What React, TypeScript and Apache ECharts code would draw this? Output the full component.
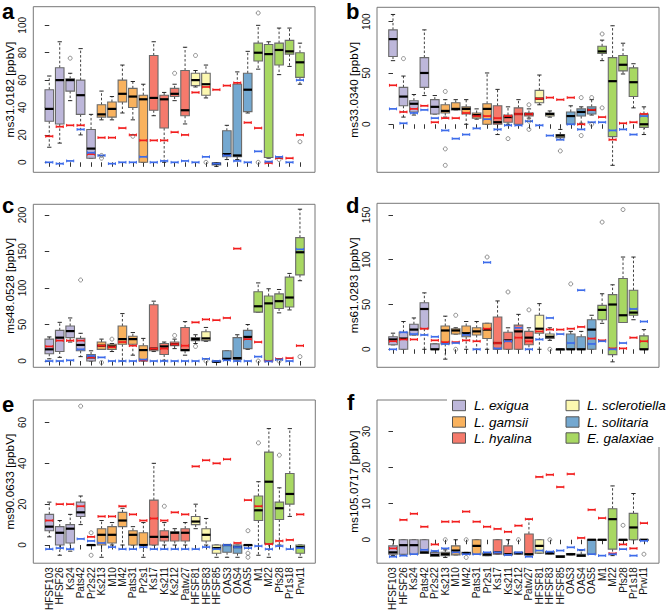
import React, { useEffect, useRef } from 'react';
import * as echarts from 'echarts';

// ---------- categories & species ----------
const categories = ['HFSF103', 'HFSF26', 'Ks24', 'Pats42', 'Pr2s22', 'Ks213', 'M10', 'M42', 'Pats31', 'Pr2s1', 'Ks17', 'Ks211', 'Ks212', 'Patw27', 'HFSF81', 'HFSF83', 'HFSF85', 'OAS3', 'OAS4', 'OAS5', 'M1', 'M22', 'Pfs28', 'Pr1s18', 'Prw11'];
const speciesNames = ['L. exigua', 'L. gamsii', 'L. hyalina', 'L. sclerotiella', 'L. solitaria', 'E. galaxiae'];
const speciesColors = ['#BDB7DA', '#F9B25E', '#F57A6C', '#FCF8B0', '#74A8D0', '#A8D862'];
const speciesOfCategory = [0, 0, 0, 0, 0, 1, 1, 1, 1, 1, 2, 2, 2, 2, 3, 3, 3, 4, 4, 4, 5, 5, 5, 5, 5];

// ---------- panel a : ms31.0182 ----------
// [lower whisker, Q1, median, Q3, upper whisker]
const aBoxes = [[11, 30, 39, 53, 63], [14, 28, 60, 69, 88], [45, 52, 60, 61, 65], [20, 35, 49, 60, 83], [3, 3, 10, 24, 35], [31, 33, 35, 42, 52], [31, 33, 39, 44, 48], [36, 44, 50, 60, 71], [31, 40, 48, 54, 59], [0, 0, 46, 49, 57], [34, 38, 47, 78, 88], [0, 25, 46, 49, 51], [45, 48, 50, 54, 57], [28, 34, 38, 67, 84], [55, 56, 60, 65, 67], [47, 49, 57, 65, 71], [-3, -2, -1, -0.5, -0.5], [2, 4, 6, 23, 27], [2, 4, 5, 57, 66], [36, 37, 53, 65, 81], [68, 74, 80, 87, 100], [3, 3.5, 79, 86, 88], [64, 71, 82, 87, 98], [70, 79, 81, 89, 98], [57, 62, 73, 80, 87]];
const aRed = [19, 26, 27, 27, 6, 18, 18, 25, 20, 16, 16, 16, 22, 20, 51, 55, 53, 56, 58, 29, 25, -0.5, 3, 3, 20];
const aBlue = [0, -1, 1, 24, 7, 5, -1, 0, 0, 4, 0, 1, 0, 1, 0, 4, -1, 5, 1, 0, 8, 0.5, 4, 0, 60];
const aOutliers = [[2, 76], [5, 5], [5, 3], [8, 19], [12, 65], [14, 78], [15, 0], [20, 109], [20, 0], [22, 2], [24, 15]];
const aTicks = [0, 20, 40, 60, 80, 100];

// ---------- panel b : ms33.0340 ----------
const bBoxes = [[62, 66, 83, 92, 107], [7, 18, 27, 36, 47], [9, 12, 20, 23, 29], [28, 36, 50, 65, 92], [10, 10, 17, 24, 28], [7, 11, 13, 19, 24], [14, 14, 15, 21, 24], [0, 10, 15, 17, 24], [5, 6, 9, 11, 15], [0, 0, 15, 20, 50], [-10, 0, 2, 18, 34], [0, 2, 7, 9, 17], [0, 0, 10, 16, 24], [6, 8, 10, 11, 15], [19, 21, 25, 33, 48], [7, 8, 10, 11, 13], [-15, -13, -11, -10, -5], [0, 0, 8, 12, 18], [1, 8, 12, 15, 17], [9, 10, 14, 17, 24], [62, 69, 71, 76, 82], [-40, -12, 42, 65, 96], [49, 52, 58, 67, 79], [16, 27, 41, 55, 59], [-10, -3, 0, 10, 17]];
const bRed = [38, 12, 15, 18, 2, 6, 6, 11, 8, 8, 6, 8, 10, 10, 25, 26, 24, 26, 0, 14, 7, -15, 1, 2, 10];
const bBlue = [15, 1, 11, 14, 6, -6, -14, -10, -4, 5, -5, -1, -1, 3, -1, -11, -15, 0, -5, 2, 2, -6, -5, -10, 8];
const bOutliers = [[1, 64], [5, 32], [5, -24], [5, -40], [11, -14], [13, 19], [13, 3], [13, -5], [16, -26], [18, 26], [18, -11], [19, 26], [19, 0], [20, 88], [20, 16]];
const bTicks = [0, 50, 100];

// ---------- panel c : ms48.0528 ----------
const cBoxes = [[3, 10, 16, 30, 33], [5, 13, 32, 42, 53], [26, 32, 41, 48, 59], [6, 14, 22, 31, 38], [0, 0, 5, 9, 14], [16, 16, 21, 26, 30], [13, 16, 20, 23, 24], [0, 23, 30, 48, 65], [8, 23, 30, 34, 39], [0, 0, 15, 21, 31], [13, 14, 17, 77, 82], [1, 9, 20, 24, 26], [17, 21, 23, 26, 30], [8, 14, 15, 46, 54], [24, 28, 30, 32, 36], [27, 28, 31, 40, 46], [-2, -1, -1, 0, 0], [2, 3, 3, 14, 14], [0, 2, 4, 32, 36], [16, 17, 33, 42, 50], [67, 67, 75, 95, 107], [0, 0, 79, 89, 99], [66, 72, 82, 92, 98], [70, 74, 87, 115, 120], [110, 118, 149, 169, 208]];
const cRed = [20, 28, 28, 28, 5, 21, 19, 26, 21, 1, 17, 17, 23, 21, 53, 57, 56, 59, 154, 30, 26, 0, 3, 4, 21];
const cBlue = [0, 0, 1, 16, 7, 5, 0, 0, 0, 2, 0, 0, 0, 0, 0, 3, 0, 1, 0, 0, 6, -0.5, 2, 0, 153];
const cOutliers = [[3, 111], [5, -2], [6, 30], [12, 35], [14, 20], [15, 0], [20, 0], [22, 0], [24, 6]];
const cTicks = [0, 50, 100, 150, 200];

// ---------- panel d : ms61.0283 ----------
const dBoxes = [[5, 5, 11, 14, 18], [0, 0, 12, 19, 31], [16, 16, 22, 28, 35], [0, 23, 45, 52, 63], [0, 0, 0, 6, 6], [-11, 6, 21, 26, 37], [17, 17, 21, 23, 24], [0, 14, 18, 26, 31], [0, 16, 20, 24, 31], [0, 12, 22, 29, 29], [0, 0, 7, 36, 54], [0, 0, 10, 19, 24], [0, 0, 20, 27, 39], [0, 5, 13, 20, 24], [0, 18, 23, 38, 51], [10, 12, 14, 17, 24], [0, 0, 0, 0, 0], [0, 0, 0, 17, 20], [0, 0, 0, 14, 20], [0, 0, 22, 33, 38], [29, 33, 44, 49, 62], [-14, -6, 50, 61, 72], [30, 30, 38, 79, 103], [33, 38, 41, 66, 103], [0, 0, 0, 15, 22]];
const dRed = [9, 11, 11, 23, 10, 8, 8, 10, 9, 23, 7, 9, 13, 9, 20, 22, 22, 23, 25, 12, 10, 1, 1, 13, 9];
const dBlue = [0, 19, 17, 16, 14, 6, 7, 16, 0, 97, 1, 9, 24, 0, 11, 35, 17, 7, 66, 6, 9, 0, 7, 45, 31];
const dOutliers = [[6, 38], [6, 0], [9, 103], [11, 64], [13, 44], [15, 0], [17, 73], [20, 142], [22, 156]];
const dTicks = [0, 50, 100, 150];

// ---------- panel e : ms90.0633 ----------
const eBoxes = [[4, 7, 9, 15, 21], [-5, 0, 6, 9, 12], [-3, 1, 8, 10, 15], [10, 14, 16, 21, 24], [0, 0, 0, 0, 0], [-6, 0, 5, 8, 12], [0, 1, 5, 9, 11], [0, 9, 12, 16, 18], [0, 0, 5, 7, 9], [-6, 0, 0, 6, 11], [0, 0, 4, 22, 40], [0, 2, 4, 7, 11], [0, 2, 6, 6.5, 8], [0, 2, 6, 8, 11], [8, 10, 11.5, 14, 20], [0, 2, 5, 8, 13], [-6, -4, -1.5, 0, 0], [-6, -3.5, 0, 0, 0], [-6, -4, -1, 0, 0], [0, 0, 0, 0, 0], [-5, 12, 17, 24, 31], [-6, 0.5, 31, 45.5, 57], [0, 12.5, 18, 21, 28], [14, 20, 25, 35, 57], [-6, -4, -1, 0, 0]];
const eRed = [12, 20, 20, 19, 4, 14, 14, 19, 15, 12, 13, 12, 16, 15, 38.5, 41.5, 40, 42, 1, 22, 19, 0.5, 2, 2.5, 15];
const eBlue = [-2, -1.5, -2, 3, 2, 1, -1, -2, -2, -1, -2, -2, -2, -2, -2, -1, -2, 0, -1, -1.5, -0.5, -2, -0.5, -2, -1.5];
const eOutliers = [[3, 68], [4, 6], [4, -5], [11, 19], [19, 7], [19, -4], [19, -6], [20, 50], [22, 44]];
const eTicks = [0, 20, 40, 60];

// ---------- panel f : ms105.0717 ----------
const fBoxes = [[-4.4, -4, -3.5, -1.7, 0], [-4, -4, -1.5, 0, 0], [-4, -4, -1.5, 0, 0], [-3.8, -3.8, -3.5, 0, 0], [-4.6, -4.6, -4.2, -3.5, -3.3], [-4.9, -4.4, -4, -3.5, -2.8], [-4.2, -4.2, -3, -1.7, 0], [-4, -4, -3.7, -3.5, -3.5], [-4, -4, -1.7, 0, 0], [-4.4, -4.4, -4.1, -3.7, -3.7], [-4, -4, -3.5, 0, 0], [-4.2, -4.2, -4, -1.7, 0], [-4, -4, -3.7, -3.5, -3.5], [-4.2, -4.2, -4, 1.6, 5.7], [-3.7, -3.7, -1.7, 0, 0], [-4, -4, -3.7, -3.3, -3.3], [-4.9, -4.9, -4.7, -4.4, -4.4], [-4.2, -4.2, -4, -3.8, -3.8], [-4.6, -4.6, -4.4, -4, -3], [-4, -4, 0, 0, 0], [0, 0, 0, 0, 0], [-4.4, -2.6, 5.7, 8.6, 14.9], [0, 0, 0, 0, 0], [0, 0, 3.4, 7.3, 12.8], [0, 0, 0, 0, 0]];
const fRed = [-2.4, 5.5, 7.2, 3.6, -1.3, 5, 5, 7.8, 5, 3.6, 3, 2.2, 3.9, 5.7, 17.4, 18, 14.6, 18.2, 0.5, 8.3, 6, -3.8, -1.3, -2.4, 4.6];
const fBlue = [-4.7, -4.4, -4, -2.8, -3.1, -2.4, -3.5, -4, -4, -3.5, -3.5, -4.2, -3.5, -4.7, -3, -3.3, -3, -2.1, -2.8, -4, -4.4, -4, -2.6, -4.4, -0.3];
const fOutliers = [[5, 0], [7, 0], [7, -4.9], [10, 37], [12, 0], [15, 0], [22, 4], [24, -4]];
const fTicks = [0, 10, 20, 30];

const yTitles = ['ms31.0182 [ppbV]', 'ms33.0340 [ppbV]', 'ms48.0528 [ppbV]', 'ms61.0283 [ppbV]', 'ms90.0633 [ppbV]', 'ms105.0717 [ppbV]'];
const panelLetters = ['a', 'b', 'c', 'd', 'e', 'f'];

// ---------- layout (pixels) ----------
const layout = [
  { left: 33.3, top: 6.7, width: 281.7, height: 165.6, ymin: -7.3, ymax: 113.6, lx: 2, ly: 11.3 },
  { left: 377, top: 7.3, width: 282, height: 165, ymin: -46.8, ymax: 114, lx: 346, ly: 11.3 },
  { left: 33.3, top: 204.3, width: 281.7, height: 163, ymin: -8.6, ymax: 214.7, lx: 2, ly: 205.6 },
  { left: 377, top: 203.3, width: 282, height: 164, ymin: -20.1, ymax: 163, lx: 346, ly: 205.6 },
  { left: 33.3, top: 400, width: 282, height: 164.3, ymin: -8.9, ymax: 71, lx: 2, ly: 404 },
  { left: 377, top: 400, width: 282, height: 164.3, ymin: -6.5, ymax: 38.7, lx: 347, ly: 402.3 },
];

const panels = [
  { boxes: aBoxes, red: aRed, blue: aBlue, outliers: aOutliers, ticks: aTicks },
  { boxes: bBoxes, red: bRed, blue: bBlue, outliers: bOutliers, ticks: bTicks },
  { boxes: cBoxes, red: cRed, blue: cBlue, outliers: cOutliers, ticks: cTicks },
  { boxes: dBoxes, red: dRed, blue: dBlue, outliers: dOutliers, ticks: dTicks },
  { boxes: eBoxes, red: eRed, blue: eBlue, outliers: eOutliers, ticks: eTicks },
  { boxes: fBoxes, red: fRed, blue: fBlue, outliers: fOutliers, ticks: fTicks },
];

const FONT = '"Liberation Sans", Arial, Helvetica, sans-serif';
const catIdx = categories.map((_, i) => i);

const boxRender = (params: any, api: any) => {
  const i = api.value(0);
  const x = api.coord([i, 0])[0];
  const yLo = api.coord([i, api.value(1)])[1];
  const yQ1 = api.coord([i, api.value(2)])[1];
  const yMed = api.coord([i, api.value(3)])[1];
  const yQ3 = api.coord([i, api.value(4)])[1];
  const yHi = api.coord([i, api.value(5)])[1];
  const unit = api.size([1, 0])[0];
  const w = unit * 0.82;
  const cap = w * 0.25;
  const dash = { stroke: '#111', lineWidth: 0.8, lineDash: [2.5, 2] };
  const solid = { stroke: '#111', lineWidth: 0.9 };
  return {
    type: 'group',
    children: [
      { type: 'line', shape: { x1: x, y1: yQ3, x2: x, y2: yHi }, style: dash },
      { type: 'line', shape: { x1: x, y1: yQ1, x2: x, y2: yLo }, style: dash },
      { type: 'line', shape: { x1: x - cap, y1: yHi, x2: x + cap, y2: yHi }, style: solid },
      { type: 'line', shape: { x1: x - cap, y1: yLo, x2: x + cap, y2: yLo }, style: solid },
      {
        type: 'rect',
        shape: { x: x - w / 2, y: yQ3, width: w, height: Math.max(yQ1 - yQ3, 0.6) },
        style: { fill: speciesColors[speciesOfCategory[i]], stroke: '#6a6a6a', lineWidth: 1.1 },
      },
      { type: 'line', shape: { x1: x - w / 2, y1: yMed, x2: x + w / 2, y2: yMed }, style: { stroke: '#000', lineWidth: 2.2 } },
    ],
  };
};

const markerRender = (color: string) => (params: any, api: any) => {
  const p = api.coord([api.value(0), api.value(1)]);
  const unit = api.size([1, 0])[0];
  const h = unit * 0.34;
  return {
    type: 'group',
    children: [
      { type: 'line', shape: { x1: p[0] - h, y1: p[1], x2: p[0] + h, y2: p[1] }, style: { stroke: color, lineWidth: 1.7 } },
      { type: 'line', shape: { x1: p[0] - h, y1: p[1] - 1.4, x2: p[0] - h, y2: p[1] + 1.4 }, style: { stroke: color, lineWidth: 1 } },
      { type: 'line', shape: { x1: p[0] + h, y1: p[1] - 1.4, x2: p[0] + h, y2: p[1] + 1.4 }, style: { stroke: color, lineWidth: 1 } },
    ],
  };
};

function buildOption() {
  const grid: any[] = [];
  const xAxis: any[] = [];
  const yAxis: any[] = [];
  const series: any[] = [];
  const graphic: any[] = [];

  panels.forEach((p, k) => {
    const L = layout[k];
    const showX = k >= 4;
    grid.push({ left: L.left, top: L.top, width: L.width, height: L.height, show: true, borderColor: '#777', borderWidth: 1, backgroundColor: 'transparent' });
    xAxis.push({
      type: 'value', gridIndex: k, min: -1.53, max: 25.44,
      axisLine: { show: false }, splitLine: { show: false },
      axisTick: { show: true, customValues: catIdx, length: 4.5, lineStyle: { color: '#333', width: 1 } },
      axisLabel: {
        show: showX, customValues: catIdx, rotate: 90, margin: 4, fontSize: 10, color: '#111', fontFamily: FONT,
        formatter: (v: number) => categories[Math.round(v)] ?? '',
      },
    });
    yAxis.push({
      type: 'value', gridIndex: k, min: L.ymin, max: L.ymax,
      axisLine: { show: false }, splitLine: { show: false },
      axisTick: { show: true, customValues: p.ticks, length: 4.5, lineStyle: { color: '#333', width: 1 } },
      axisLabel: { customValues: p.ticks, rotate: 90, margin: 6, fontSize: 10, color: '#111', fontFamily: FONT },
      name: yTitles[k], nameLocation: 'middle', nameGap: 16,
      nameTextStyle: { fontSize: 11.8, color: '#000', fontFamily: FONT },
    });
    series.push({
      type: 'custom', xAxisIndex: k, yAxisIndex: k, z: 2,
      data: p.boxes.map((b, i) => [i, ...b]),
      encode: { x: 0, y: [1, 2, 3, 4, 5] },
      renderItem: boxRender,
    });
    series.push({
      type: 'custom', xAxisIndex: k, yAxisIndex: k, z: 3,
      data: p.red.map((v, i) => [i, v]), encode: { x: 0, y: 1 },
      renderItem: markerRender('#F21C1C'),
    });
    series.push({
      type: 'custom', xAxisIndex: k, yAxisIndex: k, z: 4,
      data: p.blue.map((v, i) => [i, v]), encode: { x: 0, y: 1 },
      renderItem: markerRender('#3C6BEA'),
    });
    series.push({
      type: 'scatter', xAxisIndex: k, yAxisIndex: k, z: 10,
      data: p.outliers, symbol: 'circle', symbolSize: 4,
      itemStyle: { color: 'rgba(0,0,0,0)', borderColor: '#555', borderWidth: 0.8 },
    });
    graphic.push({
      type: 'text', x: L.lx, y: L.ly, z: 20,
      style: { text: panelLetters[k], font: `bold 22px ${FONT}`, fill: '#000', verticalAlign: 'middle', align: 'left' },
    });
  });

  // legend box inside panel f
  graphic.push({ type: 'rect', z: 6, shape: { x: 447, y: 388, width: 221, height: 59 }, style: { fill: '#fff' } });
  const legRows = [405.5, 422, 438];
  speciesNames.forEach((name, s) => {
    const col = s < 3 ? 0 : 1;
    const row = s % 3;
    const sx = col === 0 ? 452.5 : 566;
    const tx = col === 0 ? 474 : 587;
    const cy = legRows[row];
    graphic.push({ type: 'rect', z: 7, shape: { x: sx, y: cy - 5.2, width: 13, height: 10.4 }, style: { fill: speciesColors[s], stroke: '#555', lineWidth: 1 } });
    graphic.push({ type: 'text', z: 7, x: tx, y: cy, style: { text: name, font: `italic 13.5px ${FONT}`, fill: '#000', verticalAlign: 'middle', align: 'left' } });
  });

  return {
    animation: false,
    backgroundColor: '#fff',
    textStyle: { fontFamily: FONT },
    grid, xAxis, yAxis, series, graphic,
  };
}

export default function App() {
  const ref = useRef<HTMLDivElement>(null);
  useEffect(() => {
    if (!ref.current) return;
    const chart = echarts.init(ref.current, undefined, { renderer: 'svg' });
    chart.setOption(buildOption() as any);
    return () => chart.dispose();
  }, []);
  return <div ref={ref} style={{ position: 'fixed', left: 0, top: 0, width: 668, height: 613, background: '#fff' }} />;
}
